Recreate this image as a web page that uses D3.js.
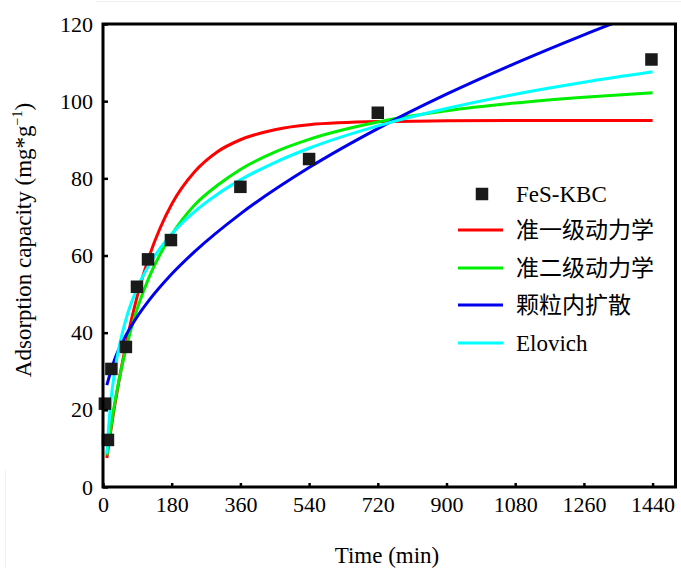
<!DOCTYPE html>
<html>
<head>
<meta charset="utf-8">
<script src="https://cdn.jsdelivr.net/npm/d3@7"></script>
<style>
  html, body { margin: 0; padding: 0; background: #fff; }
  svg { display: block; }
  text { font-family: "Liberation Serif", "Times New Roman", "Noto Sans CJK SC", serif; fill: #000; }
</style>
</head>
<body>
<svg id="chart" width="681" height="568"></svg>
<script>
// ---- data ----
const xTicks = [0, 180, 360, 540, 720, 900, 1080, 1260, 1440];
const yTicks = [0, 20, 40, 60, 80, 100, 120];

// experimental points (time in min, capacity in mg/g)
const expTime = [5, 13, 22, 60, 89, 118, 178, 360, 540, 720, 1437];
const expQ    = [21.6, 12.2, 30.6, 36.3, 51.9, 59.0, 64.0, 77.8, 85.0, 97.0, 110.8];

// fitted curves
const pfoTime = [10, 30, 60, 90, 120, 150, 180, 240, 300, 360, 450, 540, 720, 900, 1080, 1260, 1440];
const pfoQ    = [7.5, 20.7, 36.9, 49.6, 59.5, 67.2, 73.3, 81.7, 86.9, 90.0, 92.6, 93.9, 94.7, 94.9, 95.0, 95.0, 95.0];

const psoTime = [10, 30, 60, 90, 120, 150, 180, 240, 300, 360, 450, 540, 720, 900, 1080, 1260, 1440];
const psoQ    = [8.2, 21.4, 35.8, 46.3, 54.2, 60.4, 65.4, 73.1, 78.2, 82.3, 86.8, 90.1, 94.6, 97.5, 99.5, 101.0, 102.2];

const ipdTime = [10, 30, 60, 90, 120, 180, 240, 360, 540, 720, 900, 1080, 1260, 1440];
const ipdQ    = [26.4, 32.9, 39.3, 44.2, 48.3, 55.2, 61.0, 70.8, 82.8, 92.9, 101.8, 109.8, 117.2, 124.1];

const eloTime = [10, 20, 30, 60, 90, 120, 150, 180, 240, 300, 360, 450, 540, 720, 900, 1080, 1260, 1440];
const eloQ    = [8.6, 21.8, 29.5, 43.4, 51.6, 57.4, 61.9, 65.6, 71.4, 75.9, 79.6, 84.1, 87.8, 93.6, 98.1, 101.8, 104.9, 107.6];

const seriesNames  = ["准一级动力学", "准二级动力学", "颗粒内扩散", "Elovich"];
const seriesColors = ["#ff0000", "#00ee00", "#0000ee", "#00ffff"];
const pointName = "FeS-KBC";

// ---- layout ----
const svg = d3.select("#chart");
const mL = 103, mR = 675.5, mT = 24, mB = 487;

const x = d3.scaleLinear().domain([0, 1500]).range([mL, mR]);
const y = d3.scaleLinear().domain([0, 120]).range([mB, mT]);

// faint scan-edge lines of the original picture
svg.append("line").attr("x1", 96).attr("x2", 681).attr("y1", 1.5).attr("y2", 1.5)
  .attr("stroke", "#f0f0f0").attr("stroke-width", 1);
svg.append("line").attr("x1", 5.5).attr("x2", 5.5).attr("y1", 470).attr("y2", 568)
  .attr("stroke", "#f0f0f0").attr("stroke-width", 1);

svg.append("defs").append("clipPath").attr("id", "clip")
  .append("rect").attr("x", mL).attr("y", mT).attr("width", mR - mL).attr("height", mB - mT);

const plot = svg.append("g").attr("clip-path", "url(#clip)");

const curves = [
  [pfoTime, pfoQ],
  [psoTime, psoQ],
  [ipdTime, ipdQ],
  [eloTime, eloQ]
];
const line = d3.line().x(d => x(d[0])).y(d => y(d[1])).curve(d3.curveMonotoneX);

curves.forEach((c, i) => {
  const pts = c[0].map((t, j) => [t, c[1][j]]);
  plot.append("path").datum(pts)
    .attr("d", line)
    .attr("fill", "none")
    .attr("stroke", seriesColors[i])
    .attr("stroke-width", 3);
});

// experimental squares
const sq = 12.5;
svg.append("g").selectAll("rect").data(expTime.map((t, i) => [t, expQ[i]])).join("rect")
  .attr("x", d => x(d[0]) - sq / 2)
  .attr("y", d => y(d[1]) - sq / 2)
  .attr("width", sq).attr("height", sq)
  .attr("fill", "#1a1a1a");

// frame
svg.append("rect").attr("x", mL).attr("y", mT).attr("width", mR - mL).attr("height", mB - mT)
  .attr("fill", "none").attr("stroke", "#000").attr("stroke-width", 3);

// axes
const xAxis = d3.axisBottom(x).tickValues(xTicks).tickFormat(d3.format("d"))
  .tickSizeInner(-4).tickSizeOuter(0).tickPadding(9);
const gx = svg.append("g").attr("transform", `translate(0,${mB})`).call(xAxis);
gx.select(".domain").remove();
gx.selectAll(".tick line").attr("stroke-width", 2.5);
gx.selectAll(".tick text").attr("font-size", 22).attr("font-family", "Liberation Serif");

const yAxis = d3.axisLeft(y).tickValues(yTicks).tickFormat(d3.format("d"))
  .tickSizeInner(-5).tickSizeOuter(0).tickPadding(10);
const gy = svg.append("g").attr("transform", `translate(${mL},0)`).call(yAxis);
gy.select(".domain").remove();
gy.selectAll(".tick line").attr("stroke-width", 2.5);
gy.selectAll(".tick text").attr("font-size", 22).attr("font-family", "Liberation Serif");

// axis titles
svg.append("text").attr("x", 387).attr("y", 563).attr("text-anchor", "middle")
  .attr("font-size", 23).text("Time (min)");

const yt = svg.append("text").attr("transform", "translate(31,240) rotate(-90)")
  .attr("text-anchor", "middle").attr("font-size", 23);
yt.append("tspan").text("Adsorption capacity (mg*g");
yt.append("tspan").attr("font-size", 14).attr("dy", -9).text("−1");
yt.append("tspan").attr("dy", 9).text(")");

// legend
const lg = svg.append("g");
lg.append("rect").attr("x", 482 - sq / 2).attr("y", 194 - sq / 2).attr("width", sq).attr("height", sq).attr("fill", "#1a1a1a");
lg.append("text").attr("x", 516).attr("y", 194).attr("dy", "0.35em").attr("font-size", 23).text(pointName);
const rowY = [230, 268, 305, 343];
seriesNames.forEach((name, i) => {
  lg.append("line").attr("x1", 458).attr("x2", 503).attr("y1", rowY[i]).attr("y2", rowY[i])
    .attr("stroke", seriesColors[i]).attr("stroke-width", 3);
  lg.append("text").attr("x", 516).attr("y", rowY[i]).attr("dy", "0.35em")
    .attr("font-size", 23).text(name);
});
</script>
</body>
</html>
